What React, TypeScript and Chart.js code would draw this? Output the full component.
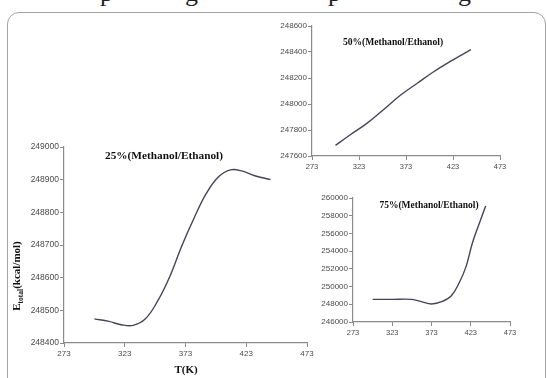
import React, { useEffect, useRef } from "react";
import { Chart, registerables } from "chart.js";
Chart.register(...registerables);

// ---------- data ----------
const T_TICKS_MIN = 273;
const T_TICKS_MAX = 473;
const T_STEP = 50;

const T25 = [298, 310, 320, 330, 340, 350, 360, 370, 380, 390, 400, 410, 420, 430, 443];
const E25 = [248474, 248466, 248456, 248454, 248474, 248528, 248603, 248698, 248782, 248857, 248908, 248930, 248926, 248912, 248900];

const T50 = [298, 313, 331, 348, 367, 385, 402, 422, 442];
const E50 = [247682, 247760, 247849, 247950, 248067, 248160, 248246, 248335, 248418];

const T75 = [298, 323, 348, 360, 373, 386, 398, 408, 417, 425, 434, 442];
const E75 = [248560, 248560, 248560, 248300, 248040, 248290, 248940, 250370, 252250, 254900, 257150, 259100];

const TITLE25 = "25%(Methanol/Ethanol)";
const TITLE50 = "50%(Methanol/Ethanol)";
const TITLE75 = "75%(Methanol/Ethanol)";
const X_TITLE = "T(K)";
const Y_TITLE_MAIN = "E";
const Y_TITLE_SUB = "total";
const Y_TITLE_REST = "(kcal/mol)";

const TOP_GLYPHS = [
  { ch: "p", x: 100 },
  { ch: "g", x: 185 },
  { ch: "p", x: 328 },
  { ch: "g", x: 458 },
];

// ---------- styles ----------
const AXIS = "#8a8a8a";
const LINE = "#45455a";
const TICKTXT = "#4a4a4a";
const SERIF = "'Liberation Serif', 'Times New Roman', serif";
const SANS = "'Liberation Sans', Arial, sans-serif";

type Txt = { text: string; x: number; y: number; size: number };
type PanelProps = {
  left: number; top: number; width: number; height: number;
  area: { l: number; t: number; r: number; b: number };
  xs: number[]; ys: number[];
  yMin: number; yMax: number; yStep: number;
  xFont: number; yFont: number; xPad: number;
  texts: Txt[];
  yTitle?: { x: number; y: number };
};

function Panel(p: PanelProps) {
  const ref = useRef<HTMLCanvasElement | null>(null);
  useEffect(() => {
    if (!ref.current) return;
    const yW = p.area.l - p.left;
    const xH = p.top + p.height - p.area.b;
    const textPlugin = {
      id: "overlayText",
      afterDraw(chart: any) {
        const ctx = chart.ctx;
        ctx.save();
        ctx.fillStyle = "#111";
        ctx.textBaseline = "middle";
        for (const t of p.texts) {
          ctx.font = `bold ${t.size}px ${SERIF}`;
          ctx.textAlign = "center";
          ctx.fillText(t.text, t.x - p.left, t.y - p.top);
        }
        if (p.yTitle) {
          ctx.translate(p.yTitle.x - p.left, p.yTitle.y - p.top);
          ctx.rotate(-Math.PI / 2);
          const big = `bold 11px ${SERIF}`;
          const small = `bold 7.5px ${SERIF}`;
          ctx.font = big;
          const w1 = ctx.measureText(Y_TITLE_MAIN).width;
          const w3 = ctx.measureText(Y_TITLE_REST).width;
          ctx.font = small;
          const w2 = ctx.measureText(Y_TITLE_SUB).width;
          const total = w1 + w2 + w3;
          let x = -total / 2;
          ctx.textAlign = "left";
          ctx.textBaseline = "alphabetic";
          ctx.font = big;
          ctx.fillText(Y_TITLE_MAIN, x, 4);
          x += w1;
          ctx.font = small;
          ctx.fillText(Y_TITLE_SUB, x, 6.5);
          x += w2;
          ctx.font = big;
          ctx.fillText(Y_TITLE_REST, x, 4);
        }
        ctx.restore();
      },
    };
    const chart = new Chart(ref.current, {
      type: "line",
      data: {
        datasets: [
          {
            data: p.xs.map((x, i) => ({ x, y: p.ys[i] })),
            borderColor: LINE,
            borderWidth: 1.4,
            pointRadius: 0,
            fill: false,
            tension: 0.4,
          },
        ],
      },
      options: {
        animation: false,
        responsive: false,
        maintainAspectRatio: false,
        devicePixelRatio: 1,
        layout: {
          padding: { left: 0, top: p.area.t - p.top, right: p.left + p.width - p.area.r, bottom: 0 },
        },
        plugins: { legend: { display: false }, tooltip: { enabled: false }, title: { display: false } },
        scales: {
          x: {
            type: "linear",
            min: T_TICKS_MIN,
            max: T_TICKS_MAX,
            afterFit: (s: any) => { s.height = xH; },
            ticks: {
              stepSize: T_STEP,
              color: TICKTXT,
              font: { family: SANS, size: p.xFont },
              padding: p.xPad,
              maxRotation: 0,
              autoSkip: false,
              callback: (v: any) => String(v),
            },
            grid: { drawOnChartArea: false, drawTicks: true, tickLength: 4, color: AXIS, lineWidth: 1 },
            border: { display: true, color: AXIS, width: 1.2 },
          },
          y: {
            type: "linear",
            min: p.yMin,
            max: p.yMax,
            afterFit: (s: any) => { s.width = yW; },
            ticks: {
              stepSize: p.yStep,
              color: TICKTXT,
              font: { family: SANS, size: p.yFont },
              padding: 1,
              autoSkip: false,
              callback: (v: any) => String(v),
            },
            grid: { drawOnChartArea: false, drawTicks: true, tickLength: 4, color: AXIS, lineWidth: 1 },
            border: { display: true, color: AXIS, width: 1.2 },
          },
        },
      },
      plugins: [textPlugin],
    } as any);
    return () => chart.destroy();
  }, []);
  return (
    <canvas
      ref={ref}
      width={p.width}
      height={p.height}
      style={{ position: "absolute", left: p.left, top: p.top, width: p.width, height: p.height }}
    />
  );
}

export default function App() {
  return (
    <div
      style={{
        position: "fixed",
        left: 0,
        top: 0,
        width: 547,
        height: 378,
        overflow: "hidden",
        background: "#fff",
      }}
    >
      {TOP_GLYPHS.map((g, i) => (
        <span
          key={i}
          style={{
            position: "absolute",
            left: g.x,
            top: -20,
            fontFamily: SERIF,
            fontSize: 26,
            lineHeight: "26px",
            color: "#222",
          }}
        >
          {g.ch}
        </span>
      ))}
      <div
        style={{
          position: "absolute",
          left: 7,
          top: 12,
          width: 539,
          height: 420,
          border: "1.5px solid #a5a5a5",
          borderRadius: 12,
          boxSizing: "border-box",
        }}
      />
      <Panel
        left={0} top={120} width={330} height={258}
        area={{ l: 64, t: 147, r: 307, b: 343 }}
        xs={T25} ys={E25}
        yMin={248400} yMax={249000} yStep={100}
        xFont={8} yFont={8.5} xPad={2}
        texts={[
          { text: TITLE25, x: 164, y: 156, size: 11.3 },
          { text: X_TITLE, x: 186, y: 370, size: 11 },
        ]}
        yTitle={{ x: 16, y: 276 }}
      />
      <Panel
        left={270} top={14} width={277} height={166}
        area={{ l: 312, t: 26, r: 500, b: 156 }}
        xs={T50} ys={E50}
        yMin={247600} yMax={248600} yStep={200}
        xFont={7.5} yFont={8} xPad={2}
        texts={[{ text: TITLE50, x: 393, y: 43, size: 9.6 }]}
      />
      <Panel
        left={300} top={185} width={247} height={160}
        area={{ l: 353, t: 198, r: 510, b: 322 }}
        xs={T75} ys={E75}
        yMin={246000} yMax={260000} yStep={2000}
        xFont={7.5} yFont={8} xPad={2}
        texts={[{ text: TITLE75, x: 429, y: 206, size: 9.5 }]}
      />
    </div>
  );
}
